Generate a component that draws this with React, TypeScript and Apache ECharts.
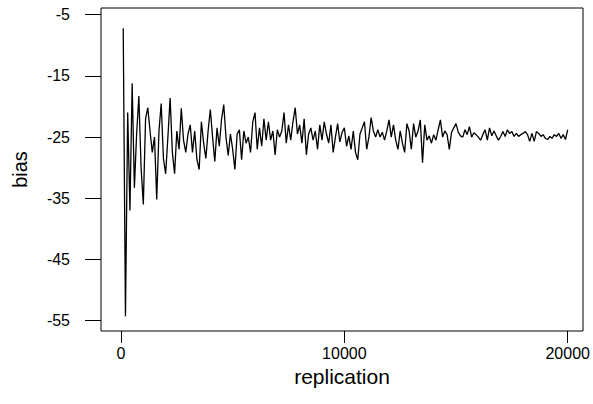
import React, { useEffect, useRef } from "react";
import * as echarts from "echarts";

// bias of the estimate, recorded every 100 replications (100 .. 20000)
const replicationStep = 100;
const bias: number[] = [
  // 100 - 3000
  -7.2, -54.3, -21.0, -37.0, -16.2, -33.3, -24.5, -18.3, -30.0, -36.0,
  -22.0, -20.2, -24.0, -27.5, -25.0, -35.2, -24.0, -19.5, -28.5, -31.0,
  -25.0, -18.6, -27.5, -31.0, -24.0, -27.0, -20.3, -25.5, -27.5, -24.5,
  // 3100 - 6500
  -23.0, -27.5, -24.0, -28.7, -30.3, -22.5, -26.0, -28.5, -24.0, -20.5,
  -25.0, -29.0, -23.5, -26.5, -22.2, -19.7, -25.0, -28.0, -24.5, -27.0,
  -30.3, -24.5, -23.8, -28.7, -24.0, -26.0, -25.0, -27.5, -22.5, -21.0,
  -27.0, -23.5, -26.5, -22.0, -25.5,
  // 6600 - 9900
  -22.5, -25.5, -24.0, -27.9, -23.8, -25.0, -24.0, -21.0, -26.0, -23.0,
  -25.5, -22.5, -20.2, -24.5, -23.0, -26.0, -22.0, -27.9, -24.5, -23.5,
  -25.5, -24.0, -27.0, -23.0, -25.5, -22.5, -24.5, -26.0, -23.0, -27.5,
  -25.0, -22.8, -25.8, -24.2,
  // 10000 - 13300
  -23.5, -26.5, -24.8, -27.0, -24.0, -27.5, -28.7, -24.5, -23.5, -22.5,
  -27.0, -25.0, -21.8, -24.0, -25.0, -23.8, -25.0, -24.2, -25.5, -24.0,
  -22.2, -25.0, -23.0, -25.5, -27.0, -24.0, -26.0, -27.5, -22.8, -24.0,
  -27.0, -22.8, -25.0, -24.0,
  // 13400 - 16800
  -22.2, -29.2, -23.0, -25.5, -24.8, -26.0, -24.6, -25.5, -23.8, -22.2,
  -25.0, -24.0, -24.6, -27.0, -24.2, -23.5, -22.8, -24.2, -24.8, -25.0,
  -23.8, -24.6, -23.3, -25.0, -24.3, -24.6, -25.0, -25.5, -24.6, -23.8,
  -25.5, -23.5, -24.8, -24.0, -24.8,
  // 16900 - 20000
  -25.5, -24.9, -24.1, -24.9, -23.8, -24.4, -24.1, -24.9, -24.4, -24.9,
  -24.6, -24.4, -24.1, -24.6, -25.7, -24.4, -25.7, -24.1, -24.4, -24.9,
  -24.6, -25.2, -25.4, -24.9, -25.2, -24.6, -24.9, -24.4, -25.2, -24.6,
  -25.4, -23.8,
];
const replication: number[] = bias.map((_, i) => (i + 1) * replicationStep);

const xTicks = [0, 10000, 20000];
const yTicks = [-55, -45, -35, -25, -15, -5];

export default function App() {
  const ref = useRef<HTMLDivElement>(null);
  useEffect(() => {
    if (!ref.current) return;
    const chart = echarts.init(ref.current, null, { renderer: "svg" });
    const font = "'Liberation Sans', Arial, Helvetica, sans-serif";
    chart.setOption({
      animation: false,
      backgroundColor: "#ffffff",
      textStyle: { fontFamily: font, color: "#000" },
      grid: {
        left: 101,
        right: 10,
        top: 8,
        bottom: 73,
        show: true,
        borderColor: "#000",
        borderWidth: 1,
        backgroundColor: "transparent",
        containLabel: false,
        outerBoundsMode: "none",
      },
      xAxis: {
        type: "value",
        min: -895,
        max: 20685,
        splitLine: { show: false },
        axisLine: { show: false, onZero: false },
        axisTick: {
          show: true,
          inside: false,
          length: 12,
          customValues: xTicks,
          lineStyle: { color: "#000", width: 1 },
        },
        axisLabel: {
          customValues: xTicks,
          formatter: (v: number) => String(v),
          margin: 14,
          fontSize: 16,
          color: "#000",
          fontFamily: font,
        },
        name: "replication",
        nameLocation: "middle",
        nameGap: 25,
        nameTextStyle: { fontSize: 21, color: "#000", fontFamily: font },
      },
      yAxis: {
        type: "value",
        min: -56.7,
        max: -3.9,
        splitLine: { show: false },
        axisLine: { show: false, onZero: false },
        axisTick: {
          show: true,
          inside: false,
          length: 16,
          customValues: yTicks,
          lineStyle: { color: "#000", width: 1 },
        },
        axisLabel: {
          customValues: yTicks,
          formatter: (v: number) => String(v),
          margin: 31,
          fontSize: 16,
          color: "#000",
          fontFamily: font,
        },
        name: "bias",
        nameLocation: "middle",
        nameGap: 71,
        nameTextStyle: { fontSize: 20, color: "#000", fontFamily: font },
      },
      series: [
        {
          type: "line",
          data: replication.map((r, i) => [r, bias[i]]),
          symbol: "none",
          showSymbol: false,
          clip: true,
          lineStyle: { color: "#000", width: 1.3 },
        },
      ],
    });
    return () => chart.dispose();
  }, []);
  return (
    <div
      ref={ref}
      style={{ position: "absolute", left: 0, top: 0, width: 593, height: 404, background: "#fff" }}
    />
  );
}
